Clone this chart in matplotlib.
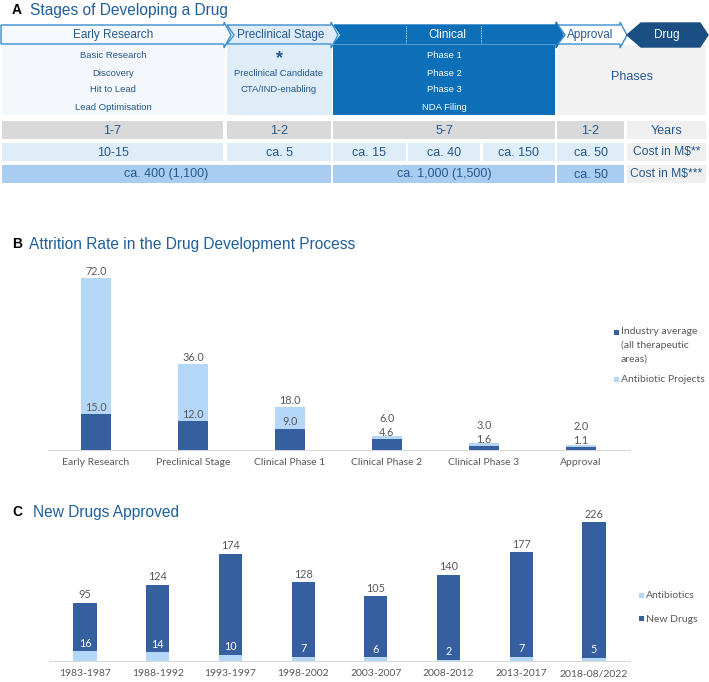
import matplotlib
matplotlib.use('Agg')
import matplotlib.pyplot as plt
from matplotlib.patches import Polygon, Rectangle

# ── data ──
stage_names = ['Early Research', 'Preclinical Stage', 'Clinical', 'Approval', 'Drug']
early_steps = ['Basic Research', 'Discovery', 'Hit to Lead', 'Lead Optimisation']
preclin_steps = ['Preclinical Candidate', 'CTA/IND-enabling']
clin_steps = ['Phase 1', 'Phase 2', 'Phase 3', 'NDA Filing']
years_row = ['1-7', '1-2', '5-7', '1-2', 'Years']
cost_row = ['10-15', 'ca. 5', 'ca. 15', 'ca. 40', 'ca. 150', 'ca. 50', 'Cost in M$**']
cost_total_row = ['ca. 400 (1,100)', 'ca. 1,000 (1,500)', 'ca. 50', 'Cost in M$***']

attr_stages = ['Early Research', 'Preclinical Stage', 'Clinical Phase 1',
               'Clinical Phase 2', 'Clinical Phase 3', 'Approval']
attr_industry = [15.0, 12.0, 9.0, 4.6, 1.6, 1.1]
attr_antibiotic = [72.0, 36.0, 18.0, 6.0, 3.0, 2.0]

periods = ['1983-1987', '1988-1992', '1993-1997', '1998-2002',
           '2003-2007', '2008-2012', '2013-2017', '2018-08/2022']
new_drugs = [95, 124, 174, 128, 105, 140, 177, 226]
antibiotics = [16, 14, 10, 7, 6, 2, 7, 5]

# ── style ──
BLUE_T = '#1f5f9b'
EDGE = '#3a8dd0'
CLIN = '#0c6fb8'
NAVY = '#1b4f83'
DARK = '#355f9f'
LIGHT = '#b4d7f7'
GRAY_T = '#595959'
TXT_A = '#24598f'
AF = ['Liberation Sans', 'DejaVu Sans']
BF = ['Lato', 'DejaVu Sans']

W, H = 709, 682
fig = plt.figure(figsize=(W / 100, H / 100), dpi=100)
ov = fig.add_axes([0, 0, 1, 1])
ov.set_xlim(0, W)
ov.set_ylim(H, 0)
ov.axis('off')


def arrow(x0, x1, fc, ec, notch=True):
    pts = [(x0, 25), (x1 - 7, 25), (x1 - 7, 22), (x1, 35), (x1 - 7, 48),
           (x1 - 7, 44), (x0, 44)]
    if notch:
        pts.append((x0 + 7, 35))
    ov.add_patch(Polygon(pts, closed=True, fc=fc, ec=ec, lw=1, zorder=2))


def box(x0, x1, y0, y1, fc):
    ov.add_patch(Rectangle((x0, y0), x1 - x0, y1 - y0, fc=fc, ec='none', zorder=1))


def txt(x, y, s, size=8.5, color=TXT_A, **kw):
    ov.text(x, y, s, ha='center', va='center', fontsize=size, color=color,
            family=AF, zorder=5, **kw)


# ── Panel A ──
ov.text(12, 10, 'A', fontsize=10, fontweight='bold', family=AF, va='center')
ov.text(30, 10, 'Stages of Developing a Drug', fontsize=11.2, color=BLUE_T,
        family=AF, va='center')

arrow(1, 231, '#f6f9fd', EDGE, notch=False)
arrow(227, 338, '#ddecf8', EDGE)
arrow(334, 563, CLIN, CLIN)
arrow(558, 627, 'white', EDGE)
ov.add_patch(Polygon([(627, 35), (641, 23), (700, 23), (708, 35), (700, 47), (641, 47)],
                     closed=True, fc=NAVY, ec=NAVY, zorder=2))
for xd in (406, 481):
    ov.plot([xd, xd], [26, 43], color='white', lw=0.6, ls=(0, (1, 1)), zorder=3)

txt(113, 35, stage_names[0])
txt(281, 35, stage_names[1])
txt(447, 35, stage_names[2], color='white')
txt(590, 35, stage_names[3])
txt(667, 35, stage_names[4], color='white')

box(2, 225, 45, 115, '#f4f7fb')
box(227, 332, 45, 115, '#deedf8')
box(333, 555, 45, 115, CLIN)
box(557, 706, 45, 115, '#f2f2f2')
for i, s in enumerate(early_steps):
    txt(113, 56 + 17 * i, s, size=6.8)
txt(279, 59, '*', size=13, fontweight='bold')
for i, s in enumerate(preclin_steps):
    txt(279, 73 + 17 * i, s, size=6.8)
for i, s in enumerate(clin_steps):
    txt(444, 56 + 17 * i, s, size=6.8, color='white')
txt(632, 77, 'Phases', size=9)

# table rows
yr_cells = [(2, 223), (227, 331), (333, 555), (557, 624), (627, 706)]
for (a, b), s in zip(yr_cells, years_row):
    box(a, b, 121, 139, '#efefef' if s == 'Years' else '#d9d9d9')
    txt((a + b) / 2, 130.5, s, size=9)

c1_cells = [(2, 223), (227, 331), (333, 406), (408, 480), (483, 555), (557, 624), (627, 706)]
for (a, b), s in zip(c1_cells, cost_row):
    lab = s.startswith('Cost')
    box(a, b, 143, 161, '#efefef' if lab else '#deedf8')
    txt((a + b) / 2, 152.5, s, size=8.7 if lab else 9)

c2_cells = [(2, 331), (333, 555), (557, 624), (627, 706)]
for (a, b), s in zip(c2_cells, cost_total_row):
    lab = s.startswith('Cost')
    box(a, b, 165, 183, '#efefef' if lab else '#a9cdf0')
    txt((a + b) / 2, 174.5, s, size=8.7 if lab else 9)

# ── Panel B ──
ov.text(12, 244, 'B', fontsize=10, fontweight='bold', family=AF, va='center')
ov.text(29, 244, 'Attrition Rate in the Drug Development Process', fontsize=11.2,
        color=BLUE_T, family=AF, va='center')

axb = fig.add_axes([47.5 / W, (H - 450) / H, 582 / W, 191 / H])
xb = range(len(attr_stages))
axb.bar(xb, attr_antibiotic, width=0.31, color=LIGHT, zorder=2)
axb.bar(xb, attr_industry, width=0.31, color=DARK, zorder=3)
axb.set_xlim(-0.5, len(attr_stages) - 0.5)
axb.set_ylim(0, 80)
off = 2.9
for i, (ind, anti) in enumerate(zip(attr_industry, attr_antibiotic)):
    y_ind = ind + off
    y_anti = max(anti + off, y_ind + 5.9)
    axb.text(i, y_ind, f'{ind:.1f}', ha='center', va='center', fontsize=7.8,
             color=GRAY_T, family=BF, zorder=4)
    axb.text(i, y_anti, f'{anti:.1f}', ha='center', va='center', fontsize=7.8,
             color=GRAY_T, family=BF, zorder=4)
axb.set_xticks(list(xb))
axb.set_xticklabels(attr_stages, fontsize=7.5, color=GRAY_T, family=BF)
axb.set_yticks([])
axb.tick_params(axis='x', length=0, pad=6)
for sp in ('top', 'left', 'right'):
    axb.spines[sp].set_visible(False)
axb.spines['bottom'].set_color('#d9d9d9')
axb.spines['bottom'].set_linewidth(0.8)
axb.patch.set_alpha(0)

# legend B
ov.add_patch(Rectangle((614, 330), 5, 5, fc=DARK, ec='none'))
ov.add_patch(Rectangle((614, 377), 5, 5, fc=LIGHT, ec='none'))
ov.text(621, 327, 'Industry average\n(all therapeutic\nareas)', fontsize=7.5,
        color=GRAY_T, family=BF, va='top', linespacing=1.6)
ov.text(621, 380, 'Antibiotic Projects', fontsize=7.5, color=GRAY_T, family=BF,
        va='center')

# ── Panel C ──
ov.text(12, 512, 'C', fontsize=10, fontweight='bold', family=AF, va='center')
ov.text(33, 512, 'New Drugs Approved', fontsize=11.2, color=BLUE_T, family=AF,
        va='center')

axc = fig.add_axes([48.6 / W, (H - 661) / H, 581.8 / W, 147.6 / H])
xc = range(len(periods))
axc.bar(xc, new_drugs, width=0.32, color=DARK, zorder=2)
axc.bar(xc, antibiotics, width=0.32, color=LIGHT, zorder=3)
axc.set_xlim(-0.5, len(periods) - 0.5)
axc.set_ylim(0, 240)
for i, (nd, ab) in enumerate(zip(new_drugs, antibiotics)):
    axc.text(i, nd + 13, str(nd), ha='center', va='center', fontsize=7.8,
             color=GRAY_T, family=BF, zorder=4)
    axc.text(i, ab + 13, str(ab), ha='center', va='center', fontsize=7.8,
             color='white', family=BF, zorder=4)
axc.set_xticks(list(xc))
axc.set_xticklabels(periods, fontsize=7.5, color=GRAY_T, family=BF)
axc.set_yticks([])
axc.tick_params(axis='x', length=0, pad=6)
for sp in ('top', 'left', 'right'):
    axc.spines[sp].set_visible(False)
axc.spines['bottom'].set_color('#d9d9d9')
axc.spines['bottom'].set_linewidth(0.8)
axc.patch.set_alpha(0)

# legend C
ov.add_patch(Rectangle((639, 593), 5, 5, fc=LIGHT, ec='none'))
ov.add_patch(Rectangle((639, 616), 5, 5, fc=DARK, ec='none'))
ov.text(646, 596, 'Antibiotics', fontsize=7.5, color=GRAY_T, family=BF, va='center')
ov.text(646, 619, 'New Drugs', fontsize=7.5, color=GRAY_T, family=BF, va='center')

fig.savefig('out.png', dpi=100, facecolor='white')
